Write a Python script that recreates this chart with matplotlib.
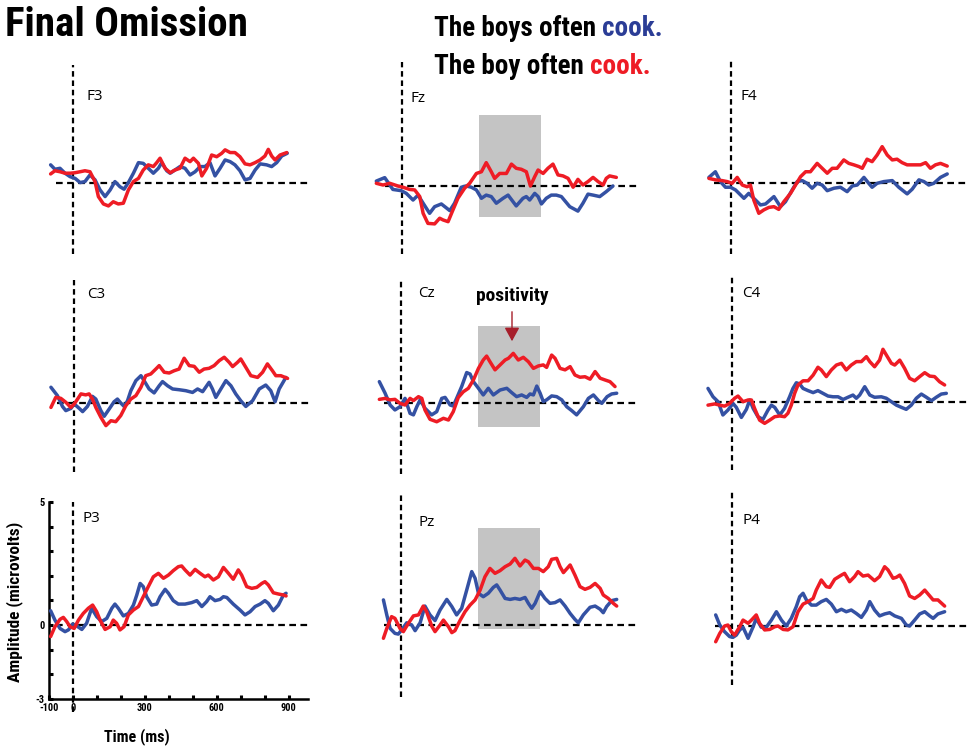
import matplotlib
matplotlib.use("Agg")
import matplotlib.pyplot as plt
import matplotlib.font_manager as fm

# ---------------- data (ms, microvolts) ----------------
F3_BLUE_T = [-92,-74,-53,-32,-11,10,31,51,72,93,114,135,156,176,197,214,232,253,274,294,315,336,357,371,392,406,426,447,468,489,510,531,551,572,593,614,635,656,676,697,718,739,760,781,808,829,850,871,894]
F3_BLUE_V = [0.75,0.57,0.61,0.41,0.27,0.20,0.03,0.07,0.34,0.14,-0.27,-0.54,-0.27,0.07,-0.14,-0.24,0.03,0.41,0.84,0.81,0.61,0.41,0.61,0.84,0.51,0.41,0.54,0.68,0.61,0.34,0.47,0.68,0.68,0.84,0.30,0.61,0.95,0.88,0.75,0.51,0.14,0.20,0.54,0.79,0.75,0.68,0.84,1.11,1.22]
F3_RED_T = [-92,-74,-53,-32,-11,10,31,51,72,93,107,128,149,169,190,211,232,253,274,294,315,336,350,364,385,406,426,447,468,489,503,524,538,558,579,600,621,635,656,676,697,718,739,760,781,801,815,829,843,864,892]
F3_RED_V = [0.38,0.51,0.47,0.41,0.41,0.43,0.47,0.51,0.47,0.07,-0.54,-0.84,-0.92,-0.75,-0.84,-0.81,-0.27,0.07,0.20,0.54,0.75,0.68,0.84,1.02,0.61,0.43,0.54,0.61,1.02,0.88,1.02,0.81,0.30,0.61,1.15,1.08,1.22,1.36,1.25,1.25,1.08,0.79,0.75,0.84,0.95,1.11,1.38,1.11,0.95,1.15,1.25]

FZ_BLUE_T = [-107,-72,-38,-3,18,46,67,88,115,136,164,199,219,247,268,289,310,331,351,372,393,421,442,476,504,518,532,553,567,581,601,622,643,664,699,733,754,775,796,824,851,879]
FZ_BLUE_V = [0.20,0.34,-0.14,-0.19,-0.30,-0.57,-0.37,-0.70,-1.11,-0.84,-0.73,-1.00,-0.70,-0.05,0,-0.05,-0.16,-0.50,-0.37,-0.43,-0.70,-0.50,-0.37,-0.81,-0.50,-0.43,-0.57,-0.30,-0.43,-0.73,-0.50,-0.37,-0.37,-0.43,-0.84,-1.02,-0.70,-0.33,-0.37,-0.43,-0.23,0]
FZ_RED_T = [-107,-79,-51,-17,4,32,53,74,88,108,136,157,171,192,212,233,261,282,310,331,351,372,386,407,435,456,476,497,518,535,553,567,588,608,629,650,671,692,713,733,754,775,796,817,838,851,865,893]
FZ_RED_V = [0.11,0.04,0.11,0,-0.05,-0.14,-0.16,-0.43,-1.11,-1.52,-1.54,-1.31,-1.38,-1.45,-0.98,-0.50,-0.09,0.11,0.51,0.58,0.95,0.58,0.31,0.51,0.51,0.89,0.72,0.68,0.58,0,0.38,0.65,0.51,0.72,0.89,0.45,0.41,0.31,-0.05,0.27,0.04,0.18,0.35,0.18,0.04,0.31,0.41,0.35]

F4_BLUE_T = [-90,-63,-42,-21,0,21,56,76,97,125,146,181,208,229,257,278,299,319,340,361,382,403,431,458,486,507,528,556,576,590,611,639,674,701,736,757,785,806,826,847,875,903]
F4_BLUE_V = [0.24,0.47,0.07,-0.16,-0.16,-0.27,-0.61,-0.41,-0.61,-0.88,-0.84,-0.54,-0.95,-0.75,-0.27,0.07,0.11,0,-0.20,0,-0.07,-0.30,-0.20,-0.16,-0.34,-0.11,-0.07,0.24,0,-0.16,0,0.07,0.11,-0.16,-0.43,-0.24,0.14,0.07,-0.07,0,0.24,0.38]
F4_RED_T = [-90,-63,-35,-14,7,28,49,69,83,97,118,139,160,181,201,222,250,271,292,313,333,361,382,403,424,444,472,493,514,535,549,569,590,611,632,653,674,694,715,736,764,792,813,833,854,875,903]
F4_RED_V = [0.20,0.14,0.11,0.07,0,0.24,-0.07,-0.14,-0.07,-0.68,-1.22,-1.08,-0.98,-0.95,-1.06,-0.75,-0.41,-0.07,0.27,0.47,0.47,0.81,0.61,0.41,0.61,0.61,0.95,0.81,0.75,0.68,0.61,0.98,0.88,1.15,1.49,1.15,0.95,0.98,0.84,0.75,0.75,0.75,0.84,0.61,0.75,0.81,0.70]

C3_BLUE_T = [-94,-67,-46,-32,-11,3,24,38,58,79,93,114,128,149,169,183,197,211,225,239,260,281,294,315,336,357,371,392,413,440,468,496,517,538,565,579,593,614,635,656,676,697,718,746,774,801,822,840,857,885]
C3_BLUE_V = [0.64,0.30,-0.14,-0.31,-0.22,-0.04,-0.22,-0.35,-0.14,0.27,0.16,-0.31,-0.54,-0.24,0.05,0.16,0,-0.14,0.09,0.50,0.91,1.11,0.91,0.57,0.41,0.70,0.87,0.70,0.57,0.54,0.50,0.43,0.57,0.46,0.84,0.57,0.23,0.57,0.91,0.70,0.37,0.09,-0.14,0.09,0.57,0.73,0.50,0.05,0.57,1.04]
C3_RED_T = [-94,-74,-53,-32,-11,3,17,31,51,65,79,93,114,135,156,176,197,218,239,260,281,301,322,343,357,378,399,419,440,461,482,503,524,544,565,586,607,628,649,663,683,697,718,739,767,788,808,829,843,864,892]
C3_RED_V = [-0.18,0.23,0.19,0.03,-0.18,-0.04,0.16,0.37,0.33,0.37,0.16,-0.18,-0.58,-0.92,-0.72,-0.76,-0.51,-0.11,0.16,0.30,0.64,1.11,1.18,1.38,1.52,1.25,1.22,1.31,1.38,1.82,1.52,1.49,1.25,1.38,1.41,1.52,1.72,1.86,1.65,1.48,1.65,1.79,1.45,1.11,1.04,1.25,1.59,1.31,1.11,1.11,1.00]

CZ_BLUE_T = [-89,-65,-44,-24,-3,18,39,53,67,81,101,129,150,171,185,206,219,233,254,275,289,303,324,344,365,386,414,442,463,483,504,525,539,553,567,581,594,608,629,650,671,692,713,733,761,782,803,824,838,860,879,900]
CZ_BLUE_V = [0.88,0.41,-0.07,-0.27,-0.14,0.20,-0.41,-0.47,-0.14,0.14,-0.20,-0.47,-0.34,0.20,0.24,-0.07,-0.11,0.20,0.68,1.25,1.19,0.88,0.61,0.34,0.61,0.34,0.54,0.61,0.43,0.27,0.34,0.24,0.38,0.34,0.70,0.41,0.07,0.14,0.30,0.27,0.14,-0.14,-0.30,-0.47,-0.14,0.20,0.34,0.11,0,0.27,0.38,0.41]
CZ_RED_T = [-89,-65,-44,-24,-3,18,39,53,74,88,101,122,150,178,199,219,240,261,282,303,324,344,358,372,393,414,435,449,469,490,511,532,553,574,594,608,629,643,664,685,706,726,747,768,789,810,831,851,872,893]
CZ_RED_V = [0.16,0.20,0.14,0.16,0,-0.07,0.20,0.11,0.27,0.20,-0.27,-0.65,-0.75,-0.61,-0.68,-0.34,0.24,0.47,0.61,0.95,1.42,1.76,1.92,1.69,1.36,1.56,1.76,1.83,2.03,1.76,1.87,1.69,1.42,1.52,1.56,1.46,1.96,1.83,1.42,1.36,1.49,1.15,1.06,1.08,0.98,1.29,1.02,0.95,0.88,0.68]

C4_BLUE_T = [-100,-79,-58,-38,-17,4,18,39,60,74,88,108,129,150,164,178,199,219,240,254,268,282,296,317,338,358,379,400,421,442,463,483,504,518,532,553,574,594,622,643,664,685,706,726,747,768,789,810,831,851,872,893]
C4_BLUE_V = [0.54,0.20,0,-0.54,-0.34,-0.07,-0.23,-0.64,-0.31,0.07,-0.27,-0.61,-0.72,-0.34,-0.14,-0.23,-0.54,-0.27,0.20,0.54,0.77,0.72,0.54,0.45,0.37,0.45,0.34,0.23,0.20,0.20,0.09,0.18,0.27,0.14,0.27,0.61,0.27,0.18,0.20,0.14,0,-0.14,-0.23,-0.31,-0.14,0.14,0.31,0.18,0.04,0.18,0.31,0.34]
C4_RED_T = [-100,-72,-51,-31,-10,11,25,46,67,81,94,115,136,157,178,199,219,233,247,261,275,296,317,338,358,372,393,414,435,456,476,497,518,539,560,574,594,615,629,643,664,678,699,719,740,761,782,803,824,844,865,886]
C4_RED_V = [-0.14,-0.09,-0.14,-0.18,-0.07,0.14,0.23,0,0.07,0.07,-0.27,-0.75,-0.88,-0.75,-0.61,-0.58,-0.61,-0.47,-0.14,0.34,0.68,0.85,0.85,1.08,1.40,1.29,1.02,1.29,1.49,1.56,1.29,1.49,1.63,1.63,1.83,1.63,1.42,1.69,2.13,1.90,1.56,1.49,1.69,1.36,0.95,0.85,1.02,1.18,1.04,1.02,0.81,0.68]

P3_BLUE_T = [-92,-74,-53,-32,-18,0,17,38,58,79,100,121,142,163,176,190,211,232,253,267,281,294,308,329,350,364,385,399,419,440,468,496,517,538,558,572,593,614,628,642,669,697,718,739,760,781,801,815,836,857,878,889]
P3_BLUE_V = [0.58,0.20,-0.14,-0.27,-0.20,0.04,-0.04,-0.18,0.07,0.68,0.34,0.14,0.27,0.68,0.85,0.68,0.37,0.47,0.81,1.22,1.69,1.56,1.15,0.81,0.85,1.15,1.45,1.29,0.99,0.85,0.85,0.91,0.99,0.75,0.95,1.15,0.99,1.04,1.15,1.12,0.85,0.61,0.41,0.54,0.75,0.85,0.99,0.88,0.58,0.81,1.22,1.29]
P3_RED_T = [-92,-74,-53,-39,-25,-11,6,24,44,65,83,100,114,135,156,169,183,197,214,232,253,274,294,315,336,357,378,399,419,440,454,468,489,510,531,551,565,586,607,628,649,669,690,704,725,746,767,788,801,815,836,857,878,889]
P3_RED_V = [-0.47,-0.07,0.23,0.31,0.14,-0.07,-0.14,0.20,0.47,0.68,0.81,0.54,0.20,-0.18,-0.07,0.20,0.07,-0.20,-0.07,0.41,0.61,0.75,1.15,1.56,1.96,2.10,1.90,2.03,2.21,2.37,2.40,2.24,2.03,2.26,2.10,1.96,2.03,1.83,1.96,2.34,2.10,1.86,2.24,2.03,1.56,1.49,1.53,1.69,1.76,1.63,1.31,1.26,1.22,1.18]

PZ_BLUE_T = [-72,-58,-44,-24,-10,4,25,46,60,81,101,122,143,164,192,213,233,254,275,296,310,324,344,365,386,400,414,435,456,476,497,518,532,546,560,581,601,622,643,664,685,706,726,740,761,789,810,831,844,858,879,900]
PZ_BLUE_V = [1.02,0.41,-0.14,-0.34,-0.37,-0.20,0.09,0,-0.23,0.09,0.77,0.41,0.18,0.61,1.04,0.75,0.41,0.68,1.42,2.17,1.90,1.29,1.15,1.29,1.53,1.63,1.42,1.08,1.04,1.08,1.04,1.12,0.88,0.68,0.88,1.36,1.08,0.88,0.91,1.02,0.77,0.47,0.23,0.09,0.41,0.72,0.77,0.64,0.50,0.75,0.99,1.04]
PZ_RED_T = [-72,-58,-38,-24,-3,11,32,53,74,94,108,129,143,164,178,199,213,226,247,268,289,310,331,351,372,393,414,435,456,476,497,518,532,553,574,594,615,629,650,664,678,706,726,747,768,789,810,831,844,865,886,900]
PZ_RED_V = [-0.54,-0.14,0.34,0.27,-0.14,-0.27,0.07,0.37,0.41,0.77,0.54,-0.04,-0.27,0,0.20,-0.07,-0.31,-0.23,0.18,0.54,0.81,1.02,1.42,1.96,2.30,2.10,2.21,2.37,2.48,2.71,2.40,2.64,2.57,2.30,2.30,2.17,2.37,2.67,2.71,2.37,2.13,2.44,2.03,1.56,1.45,1.53,1.69,1.49,1.22,1.08,0.88,0.77]

P4_BLUE_T = [-68,-51,-31,-10,4,18,32,46,67,88,101,122,143,164,185,206,226,247,268,282,296,310,331,351,372,393,414,435,456,476,497,518,539,560,574,594,615,636,657,678,706,726,740,761,782,803,824,838,858,886]
P4_BLUE_V = [0.45,0.04,-0.23,-0.43,-0.46,-0.37,-0.16,-0.05,-0.50,-0.03,0.31,-0.05,-0.05,0.24,0.58,0.24,0,0.31,0.79,1.19,1.33,1.06,0.85,0.85,0.99,1.08,0.89,0.58,0.68,0.58,0.65,0.51,0.35,0.65,0.99,0.65,0.41,0.49,0.54,0.41,0.31,0.04,0,0.24,0.49,0.58,0.41,0.31,0.49,0.58]
P4_RED_T = [-68,-51,-31,-17,-3,11,32,46,67,81,101,115,136,157,178,192,213,233,254,275,296,317,338,351,372,393,407,428,456,469,490,511,525,546,567,594,615,636,650,671,685,699,719,740,761,782,803,824,838,858,886]
P4_RED_V = [-0.64,-0.30,0,0.04,-0.23,-0.37,-0.03,0.24,0.11,0.24,0.45,0.11,-0.16,-0.14,-0.03,0,-0.14,-0.16,-0.03,0.58,0.89,0.99,1.12,1.46,1.87,1.60,1.57,1.90,2.07,2.14,1.80,2.01,2.21,2.03,2.07,1.84,2.01,2.41,2.28,1.94,1.98,2.07,1.73,1.22,1.12,1.26,1.46,1.22,1.06,1.06,0.81]

ELECTRODES = ["F3", "Fz", "F4", "C3", "Cz", "C4", "P3", "Pz", "P4"]
BLUE_T = [F3_BLUE_T, FZ_BLUE_T, F4_BLUE_T, C3_BLUE_T, CZ_BLUE_T, C4_BLUE_T, P3_BLUE_T, PZ_BLUE_T, P4_BLUE_T]
BLUE_V = [F3_BLUE_V, FZ_BLUE_V, F4_BLUE_V, C3_BLUE_V, CZ_BLUE_V, C4_BLUE_V, P3_BLUE_V, PZ_BLUE_V, P4_BLUE_V]
RED_T = [F3_RED_T, FZ_RED_T, F4_RED_T, C3_RED_T, CZ_RED_T, C4_RED_T, P3_RED_T, PZ_RED_T, P4_RED_T]
RED_V = [F3_RED_V, FZ_RED_V, F4_RED_V, C3_RED_V, CZ_RED_V, C4_RED_V, P3_RED_V, PZ_RED_V, P4_RED_V]

# analysis window (ms) marked with grey boxes on midline electrodes
WINDOW_T = (320, 580)
WINDOW_V = {"Fz": (-1.26, 2.89), "Cz": (-0.98, 3.14), "Pz": (-0.17, 3.96)}

X_TICKS = [-100, 0, 100, 200, 300, 400, 500, 600, 700, 800, 900]
X_TICK_LABELS = ["-100", "0", "", "", "300", "", "", "600", "", "", "900"]
Y_TICKS = [-3, -2, -1, 0, 1, 2, 3, 4, 5]
Y_TICK_LABELS = ["-3", "", "", "0", "", "", "", "", "5"]

# ---------------- layout (pixels) ----------------
W, H = 974, 750
SX, SY = 0.24, 24.6            # px per ms, px per microvolt
XMIN, XMAX, YMIN, YMAX = -100, 980, -3, 5
ORIGINS = [(72.7, 183.3), (402.0, 186.0), (730.5, 183.3),
           (73.5, 403.0), (400.7, 403.3), (732.0, 401.7),
           (72.7, 625.0), (400.7, 625.0), (732.0, 626.0)]
VLINE = [(4.81, -2.87), (5.04, -2.76), (4.98, -2.86),
         (5.0, -2.8), (4.97, -2.86), (5.15, -2.76),
         (5.0, -3.54), (5.4, -2.93), (5.45, -2.4)]
LABEL_POS = [(87, 96), (411, 99), (740, 97),
             (87, 295), (418, 293), (742, 293),
             (83, 519), (418, 522), (742, 520)]

BLUE = "#3451a3"
RED = "#ee1c25"
TEXT_BLUE = "#2b3d96"
ARROW_RED = "#a61e2a"
GREY = "#c4c4c4"

names = {f.name for f in fm.fontManager.ttflist}
COND = next((n for n in ["Liberation Sans Narrow", "Roboto Condensed", "Open Sans Condensed",
                         "DejaVu Sans Condensed", "Roboto"] if n in names), "DejaVu Sans")
REG = "Open Sans" if "Open Sans" in names else "DejaVu Sans"

fig = plt.figure(figsize=(W / 100, H / 100), dpi=100)
fig.patch.set_facecolor("white")


def fx(px):
    return px / W


def fy(py):
    return 1 - py / H


def rect(x0, y0):
    left = x0 + XMIN * SX
    right = x0 + XMAX * SX
    top = y0 - YMAX * SY
    bottom = y0 - YMIN * SY
    return [left / W, 1 - bottom / H, (right - left) / W, (bottom - top) / H]


for i, name in enumerate(ELECTRODES):
    x0, y0 = ORIGINS[i]
    ax = fig.add_axes(rect(x0, y0))
    ax.set_xlim(XMIN, XMAX)
    ax.set_ylim(YMIN, YMAX)
    ax.patch.set_alpha(0)
    if name in WINDOW_V:
        v0, v1 = WINDOW_V[name]
        ax.add_patch(plt.Rectangle((WINDOW_T[0], v0), WINDOW_T[1] - WINDOW_T[0], v1 - v0,
                                   facecolor=GREY, edgecolor="none", zorder=1))
    ax.plot([-70, 990], [0, 0], color="black", lw=1.6, dashes=(3, 2), zorder=2, clip_on=False)
    vt, vb = VLINE[i]
    ax.plot([0, 0], [vb, vt], color="black", lw=1.6, dashes=(2.5, 1.7), zorder=2, clip_on=False)
    ax.plot(BLUE_T[i], BLUE_V[i], color=BLUE, lw=2.5, solid_joinstyle="round",
            solid_capstyle="round", zorder=3, clip_on=False)
    ax.plot(RED_T[i], RED_V[i], color=RED, lw=2.5, solid_joinstyle="round",
            solid_capstyle="round", zorder=4, clip_on=False)
    lx, ly = LABEL_POS[i]
    fig.text(fx(lx), fy(ly), name, ha="left", va="center", fontsize=11, family=REG)

    if name == "P3":
        for s in ["top", "right"]:
            ax.spines[s].set_visible(False)
        for s in ["left", "bottom"]:
            ax.spines[s].set_linewidth(1.8)
        ax.set_xticks(X_TICKS)
        ax.set_xticklabels(X_TICK_LABELS, family=COND, weight="bold", fontsize=7.5)
        ax.set_yticks(Y_TICKS)
        ax.set_yticklabels(Y_TICK_LABELS, family=COND, weight="bold", fontsize=7.5)
        ax.tick_params(direction="in", length=3, width=2.2, pad=3)
    else:
        ax.axis("off")

# titles and legend text
fig.text(fx(5), fy(36), "Final Omission", ha="left", va="baseline",
         fontsize=29.5, weight="bold", family=COND)

fig.canvas.draw()
renderer = fig.canvas.get_renderer()
for (txt, col, base) in [("The boys often", TEXT_BLUE, 36), ("The boy often", RED, 74)]:
    t = fig.text(fx(434), fy(base), txt, ha="left", va="baseline",
                 fontsize=19.5, weight="bold", family=COND)
    bb = t.get_window_extent(renderer)
    fig.text((bb.x1 + 6) / W, fy(base), "cook.", ha="left", va="baseline",
             fontsize=19.5, weight="bold", family=COND, color=col)

fig.text(fx(512), fy(300.5), "positivity", ha="center", va="baseline",
         fontsize=14, weight="bold", family=COND)
fig.add_artist(matplotlib.patches.FancyArrowPatch(
    (fx(512), fy(309)), (fx(512), fy(344)), transform=fig.transFigure,
    arrowstyle="-|>,head_length=0.55,head_width=0.3", mutation_scale=15,
    color=ARROW_RED, lw=1.0))

fig.text(fx(15), fy(602), "Amplitude (microvolts)", rotation=90, ha="center", va="center",
         fontsize=12.5, weight="bold", family=COND)
fig.text(fx(137), fy(737), "Time (ms)", ha="center", va="center",
         fontsize=11.5, weight="bold", family=COND)

fig.savefig("out.png", dpi=100, facecolor="white")
